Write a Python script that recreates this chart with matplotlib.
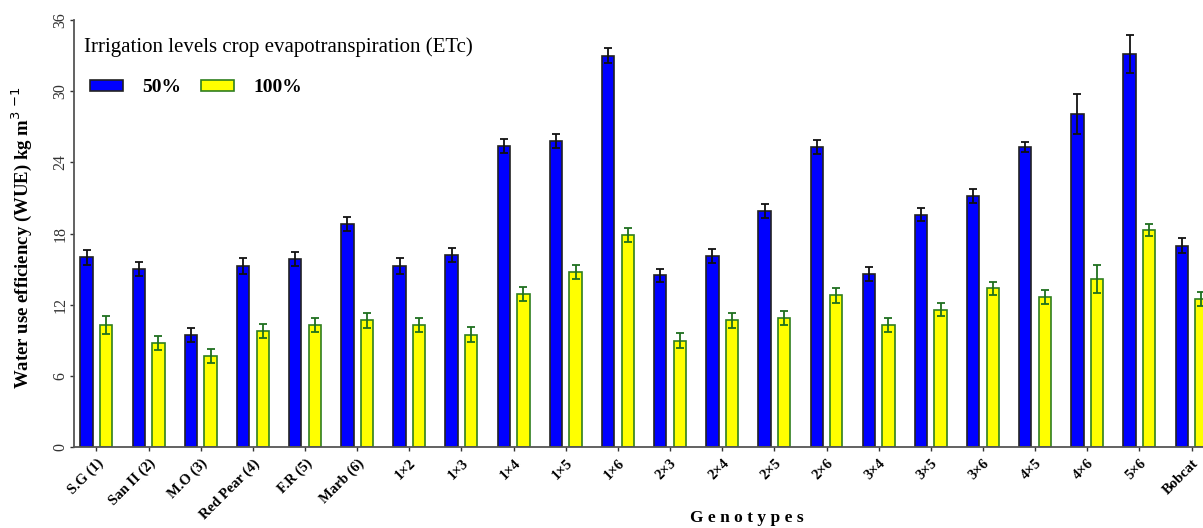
import matplotlib
matplotlib.use('Agg')
import matplotlib.pyplot as plt
import numpy as np

plt.rcParams['font.family'] = ['Liberation Serif', 'DejaVu Serif']

# Data
genotypes = ['S.G (1)', 'San II (2)', 'M.O (3)', 'Red Pear (4)', 'F.R (5)', 'Marb (6)',
             '1×2', '1×3', '1×4', '1×5', '1×6', '2×3', '2×4', '2×5', '2×6',
             '3×4', '3×5', '3×6', '4×5', '4×6', '5×6', 'Bobcat']
wue_50 = [16.0, 15.0, 9.5, 15.3, 15.9, 18.8, 15.3, 16.2, 25.4, 25.8, 33.0,
          14.5, 16.1, 19.9, 25.3, 14.6, 19.6, 21.2, 25.3, 28.1, 33.1, 17.0]
err_50 = [0.65, 0.6, 0.6, 0.65, 0.6, 0.6, 0.65, 0.6, 0.6, 0.6, 0.6,
          0.55, 0.6, 0.6, 0.6, 0.6, 0.55, 0.6, 0.4, 1.7, 1.6, 0.65]
wue_100 = [10.3, 8.8, 7.7, 9.8, 10.3, 10.7, 10.3, 9.5, 12.9, 14.8, 17.9,
           9.0, 10.7, 10.9, 12.8, 10.3, 11.6, 13.4, 12.7, 14.2, 18.3, 12.5]
err_100 = [0.75, 0.6, 0.6, 0.6, 0.6, 0.6, 0.6, 0.65, 0.6, 0.6, 0.6,
           0.6, 0.6, 0.6, 0.6, 0.6, 0.55, 0.55, 0.6, 1.15, 0.5, 0.6]

x = np.arange(len(genotypes))
width = 0.237
offset = 0.188

fig = plt.figure(figsize=(12.03, 5.28), dpi=100)
ax = fig.add_axes([0.0615, 0.1525, 0.9385, 0.8097])

ax.bar(x - offset, wue_50, width, color='#0000ff', edgecolor='#222222', linewidth=1.2,
       label='50%', yerr=err_50, capsize=3,
       error_kw=dict(ecolor='#111111', elinewidth=1.3, capthick=1.3))
ax.bar(x + offset, wue_100, width, color='#ffff00', edgecolor='#2f7f1f', linewidth=1.2,
       label='100%', yerr=err_100, capsize=3,
       error_kw=dict(ecolor='#1f6f1f', elinewidth=1.3, capthick=1.3))

ax.set_ylim(0, 36)
ax.set_xlim(-0.431, 21.22)
ax.set_yticks(np.arange(0, 37, 6))
ax.tick_params(axis='y', labelsize=11.5, rotation=90, length=3, width=1, pad=1,
               colors='#333333')
ax.tick_params(axis='x', length=3, width=1, colors='#333333')
for lab in ax.get_yticklabels():
    lab.set_va('center')
ax.set_xticks(x)
ax.set_xticklabels(genotypes, rotation=45, ha='right', rotation_mode='anchor',
                   fontsize=10.5, fontweight='bold', color='black')

for s in ['top', 'right']:
    ax.spines[s].set_visible(False)
for s in ['left', 'bottom']:
    ax.spines[s].set_color('#555555')
    ax.spines[s].set_linewidth(1.3)

ax.set_ylabel('Water use efficiency (WUE) kg m$^{3\\ \\mathrm{-1}}$', fontsize=13.5,
              fontweight='bold')
ax.yaxis.set_label_coords(-0.035, 0.49)
ax.set_xlabel('G e n o t y p e s', fontsize=12.5, fontweight='bold')
ax.xaxis.set_label_coords(0.596, -0.147)

ax.text(0.0089, 0.937, 'Irrigation levels crop evapotranspiration (ETc)',
        transform=ax.transAxes, fontsize=15, va='center', ha='left')
leg = ax.legend(loc='center left', bbox_to_anchor=(0.0138, 0.841), ncol=2, frameon=False,
                prop=dict(weight='bold', size=14),
                handlelength=1.7, handleheight=0.45, handletextpad=1.0,
                columnspacing=1.0, borderpad=0.0, borderaxespad=0.0)

fig.savefig('out.png', dpi=100)
